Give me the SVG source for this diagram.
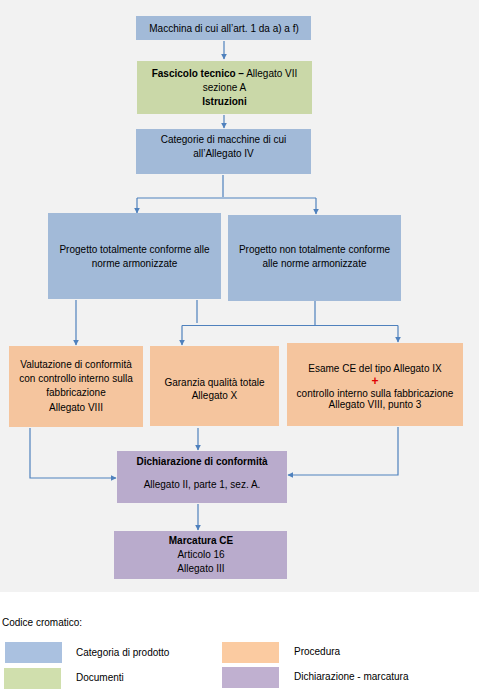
<svg xmlns="http://www.w3.org/2000/svg" width="479" height="695" viewBox="0 0 479 695">
<defs>
<marker id="ah" viewBox="0 0 10 10" refX="9" refY="5" markerWidth="6" markerHeight="6" markerUnits="userSpaceOnUse" orient="auto">
<path d="M0,0 L10,5 L0,10 z" fill="#4f81bd"/>
</marker>
<style>
text{font-family:"Liberation Sans",Arial,sans-serif;font-size:10px;fill:#000;text-anchor:middle}
.b{font-weight:bold}
.blue{fill:#a2bad8}
.green{fill:#cad8a8}
.peach{fill:#f5c59e}
.purple{fill:#b9abcc}
.c{fill:none;stroke:#4f81bd;stroke-width:1.2}
.a{marker-end:url(#ah)}
.lg{text-anchor:start}
</style>
</defs>
<rect x="0" y="0" width="479" height="592" fill="#f2f2f2"/>
<rect x="0" y="592" width="479" height="103" fill="#ffffff"/>

<g id="connectors">
<path class="c a" d="M224,41 V59"/>
<path class="c a" d="M224,115 V128"/>
<path class="c" d="M223,175 V197 M137,198 H316"/>
<path class="c a" d="M137,198 V213"/>
<path class="c a" d="M316,198 V214"/>
<path class="c a" d="M76,300 V345"/>
<path class="c" d="M197,300 V323 M315,301 V325 M182,325.5 H398"/>
<path class="c a" d="M182,325.5 V345"/>
<path class="c a" d="M398,325.5 V342"/>
<path class="c a" d="M30,428 V478 H116"/>
<path class="c a" d="M198,428 V450"/>
<path class="c a" d="M398,427 V475 H288"/>
<path class="c a" d="M198,504 V530"/>
</g>

<g id="n1">
<rect class="blue" x="136" y="16" width="175" height="24"/>
<text x="224" y="31.5">Macchina di cui all’art. 1 da a) a f)</text>
</g>
<g id="n2">
<rect class="green" x="137" y="61" width="175" height="53"/>
<text x="224.5" y="76.5"><tspan class="b">Fascicolo tecnico –</tspan> Allegato VII</text>
<text x="224.5" y="90.5">sezione A</text>
<text x="224.5" y="104.5" class="b">Istruzioni</text>
</g>
<g id="n3">
<rect class="blue" x="136" y="129" width="175" height="45"/>
<text x="223.5" y="142.5">Categorie di macchine di cui</text>
<text x="223.5" y="156.5">all’Allegato IV</text>
</g>
<g id="n4">
<rect class="blue" x="48" y="213" width="173" height="86"/>
<text x="134.5" y="252.5">Progetto totalmente conforme alle</text>
<text x="134.5" y="266.5">norme armonizzate</text>
</g>
<g id="n5">
<rect class="blue" x="228" y="215" width="173" height="86"/>
<text x="314.5" y="252.5">Progetto non totalmente conforme</text>
<text x="314.5" y="266.5">alle norme armonizzate</text>
</g>
<g id="n6">
<rect class="peach" x="9" y="346" width="134" height="81"/>
<text x="76" y="367.5">Valutazione di conformità</text>
<text x="76" y="382">con controllo interno sulla</text>
<text x="76" y="396">fabbricazione</text>
<text x="76" y="410.5">Allegato VIII</text>
</g>
<g id="n7">
<rect class="peach" x="150" y="346" width="129" height="80"/>
<text x="214.5" y="385.5">Garanzia qualità totale</text>
<text x="214.5" y="398.5">Allegato X</text>
</g>
<g id="n8">
<rect class="peach" x="287" y="343" width="176" height="83"/>
<text x="375" y="371.5">Esame CE del tipo Allegato IX</text>
<text x="375" y="384.5" style="fill:#e00000;font-size:12px;font-weight:bold">+</text>
<text x="375" y="396.5">controllo interno sulla fabbricazione</text>
<text x="375" y="408">Allegato VIII, punto 3</text>
</g>
<g id="n9">
<rect class="purple" x="117" y="451" width="170" height="52"/>
<text x="202" y="464.5" class="b">Dichiarazione di conformità</text>
<text x="202" y="487.5">Allegato II, parte 1, sez. A.</text>
</g>
<g id="n10">
<rect class="purple" x="114" y="531" width="173" height="48"/>
<text x="201" y="543.5" class="b">Marcatura CE</text>
<text x="201" y="557.5">Articolo 16</text>
<text x="201" y="571.5">Allegato III</text>
</g>

<g id="legend">
<text class="lg" x="2" y="625.5">Codice cromatico:</text>
<rect x="5" y="642" width="57" height="21" fill="#aac1e0"/>
<rect x="4" y="668" width="57" height="21" fill="#d0dfad"/>
<rect x="222" y="642" width="57" height="21" fill="#fbcba1"/>
<rect x="222" y="667" width="57" height="21" fill="#c0b0d0"/>
<text class="lg" x="76" y="655.5">Categoria di prodotto</text>
<text class="lg" x="76" y="680.5">Documenti</text>
<text class="lg" x="294" y="654.5">Procedura</text>
<text class="lg" x="294" y="679.5">Dichiarazione - marcatura</text>
</g>
</svg>
